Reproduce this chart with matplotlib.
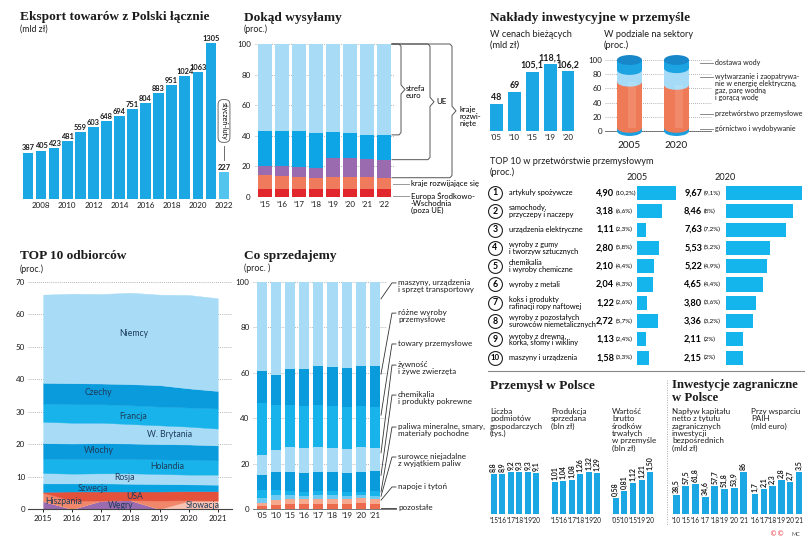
import numpy as np
import matplotlib
matplotlib.use("Agg")
import matplotlib.pyplot as plt
from matplotlib.patches import Ellipse, Rectangle
from matplotlib.lines import Line2D
from matplotlib.transforms import blended_transform_factory

W, H = 805, 542
SERIF = "Liberation Serif"
SANS = "Lato"
plt.rcParams['font.family'] = [SANS, 'DejaVu Sans']

BLUE = "#1ba6e4"
BLUE_PALE = "#52c4ee"
LIGHT = "#a8dcf6"
MID = "#17b3ea"
DARK = "#0a9bdd"
PURPLE = "#9b6bb0"
SALMON = "#f07b5c"
RED = "#e2262d"
GRID = "#9a9a9a"
TXT = "#1c1c1c"
NAVY = "#1d3b5a"
LEAD = "#555555"

# --- Eksport towarów z Polski łącznie (mld zł)
exp_years = list(range(2007, 2023))
exp_values = [387, 405, 423, 481, 559, 603, 648, 694, 751, 804, 883, 951, 1024, 1063, 1305, 227]

# --- Dokąd wysyłamy (proc.)
dest_years = ["’15", "’16", "’17", "’18", "’19", "’20", "’21", "’22"]
dest_cee = [5.0, 5.2, 5.4, 5.5, 5.5, 5.5, 5.3, 5.0]
dest_developing = [9.2, 8.6, 7.8, 7.1, 7.3, 7.7, 7.9, 7.6]
dest_dev_noneu = [6.1, 6.2, 6.6, 6.4, 12.7, 12.3, 11.4, 11.8]
dest_eu_noneuro = [23.1, 23.4, 23.2, 22.9, 16.8, 16.3, 16.2, 16.2]
dest_euro = [56.6, 56.6, 57.0, 58.1, 57.7, 58.2, 59.2, 59.4]

# --- Nakłady inwestycyjne (mld zł)
inv_years = ["’05", "’10", "’15", "’19", "’20"]
inv_values = [48, 69, 105.1, 118.1, 106.2]

# --- W podziale na sektory (proc.)
sector_years = ["2005", "2020"]
sector_mining = [4.5, 4.5]
sector_manuf = [65.0, 60.5]
sector_energy = [16.5, 23.5]
sector_water = [14.0, 11.5]

# --- TOP 10 w przetwórstwie przemysłowym
top_names = ["artykuły spożywcze", "samochody,\nprzyczepy i naczepy", "urządzenia elektryczne",
             "wyroby z gumy\ni tworzyw sztucznych", "chemikalia\ni wyroby chemiczne", "wyroby z metali",
             "koks i produkty\nrafinacji ropy naftowej", "wyroby z pozostałych\nsurowców niemetalicznych",
             "wyroby z drewna,\nkorka, słomy i wikliny", "maszyny i urządzenia"]
top_2005 = [4.90, 3.18, 1.11, 2.80, 2.10, 2.04, 1.22, 2.72, 1.13, 1.58]
top_2005_pct = [10.2, 6.6, 2.3, 5.8, 4.4, 4.3, 2.6, 5.7, 2.4, 3.3]
top_2020 = [9.67, 8.46, 7.63, 5.53, 5.22, 4.65, 3.80, 3.36, 2.11, 2.15]
top_2020_pct = [9.1, 8, 7.2, 5.2, 4.9, 4.4, 3.6, 3.2, 2, 2]

# --- TOP 10 odbiorców (proc.)
rec_years = [2015, 2016, 2017, 2018, 2019, 2020, 2021]
rec_hungary = [2.4, 0.0, 2.6, 2.7, 0.0, 0.0, 0.0]
rec_slovakia = [0.0, 0.0, 0.0, 0.0, 0.0, 2.5, 2.6]
rec_spain = [2.6, 2.6, 0.0, 0.0, 2.6, 0.2, 0.0]
rec_usa = [0.3, 2.8, 2.8, 2.7, 2.8, 2.8, 2.9]
rec_sweden = [2.6, 2.5, 2.5, 2.4, 2.3, 2.1, 2.0]
rec_russia = [3.2, 3.0, 3.1, 3.2, 3.1, 3.0, 3.1]
rec_nl = [4.4, 4.5, 4.4, 4.4, 4.5, 4.6, 4.4]
rec_italy = [4.8, 4.8, 4.9, 4.8, 4.7, 4.7, 4.6]
rec_uk = [6.6, 6.4, 6.3, 6.0, 5.8, 5.5, 5.2]
rec_france = [5.6, 5.7, 5.7, 5.8, 5.8, 5.9, 6.2]
rec_czech = [6.4, 6.5, 6.4, 6.5, 6.6, 5.9, 5.4]
rec_germany = [27.2, 27.6, 27.6, 28.2, 27.9, 28.8, 28.6]

# --- Co sprzedajemy (proc.)
cs_years = ["’05", "’10", "’15", "’16", "’17", "’18", "’19", "’20", "’21"]
cs_other = [1.2, 1.8, 2.0, 2.0, 2.2, 2.2, 2.2, 2.5, 2.2]
cs_bev = [1.6, 2.0, 2.2, 2.2, 2.1, 2.1, 2.1, 2.3, 2.1]
cs_crude = [2.2, 2.2, 1.8, 1.6, 1.7, 1.7, 1.6, 1.4, 1.6]
cs_fuels = [3.5, 2.5, 1.8, 1.6, 1.9, 1.9, 1.6, 1.3, 2.0]
cs_chem = [6.5, 8.0, 8.7, 8.5, 8.6, 8.4, 8.5, 8.7, 8.7]
cs_food = [8.7, 9.3, 10.7, 10.9, 10.8, 10.5, 10.5, 11.0, 10.2]
cs_manuf = [22.8, 20.2, 18.8, 18.7, 18.7, 18.7, 18.5, 18.3, 18.2]
cs_misc = [14.4, 13.0, 15.5, 16.3, 17.1, 17.2, 17.0, 17.3, 18.0]
cs_mach = [39.1, 41.0, 38.5, 38.2, 36.9, 37.3, 38.0, 37.2, 37.0]

# --- Przemysł w Polsce / Inwestycje zagraniczne
firms_years = ["’15", "’16", "’17", "’18", "’19", "’20"]
firms_values = [8.8, 8.9, 9.2, 9.3, 9.3, 9.1]
sales_years = ["’15", "’16", "’17", "’18", "’19", "’20"]
sales_values = [1.01, 1.04, 1.08, 1.26, 1.32, 1.29]
assets_years = ["’05", "’10", "’15", "’19", "’20"]
assets_values = [0.58, 0.81, 1.12, 1.21, 1.50]
fdi_years = ["’10", "’15", "’16", "’17", "’18", "’19", "’20", "’21"]
fdi_values = [38.5, 57.5, 61.8, 34.6, 57.7, 51.8, 53.9, 86]
paih_years = ["’16", "’17", "’18", "’19", "’20", "’21"]
paih_values = [1.7, 2.1, 2.3, 2.8, 2.7, 3.5]


fig = plt.figure(figsize=(W / 100, H / 100), dpi=100)
fig.patch.set_facecolor("white")


def add_ax(x0, y0, x1, y1):
    # pixel box -> figure axes
    ax = fig.add_axes([x0 / W, 1 - y1 / H, (x1 - x0) / W, (y1 - y0) / H])
    ax.patch.set_alpha(0)
    for s in ax.spines.values():
        s.set_visible(False)
    return ax


def ftext(x, y, s, **kw):
    kw.setdefault("va", "center")
    kw.setdefault("color", TXT)
    fig.text(x / W, 1 - y / H, s, **kw)


def px_line(xs, ys, **kw):
    fig.add_artist(Line2D([x / W for x in xs], [1 - y / H for y in ys],
                          transform=fig.transFigure, **kw))


def title(x, y, s, size=9.6):
    ftext(x, y, s, family=SERIF, weight="bold", size=size)


def dec(v, fmt="{:g}"):
    return fmt.format(v).replace(".", ",")


# ============ Eksport ============
title(20, 17, "Eksport towarów z Polski łącznie")
ftext(20, 29, "(mld zł)", size=6.3)
ax = add_ax(18, 30, 234, 199)
cols = [BLUE] * (len(exp_values) - 1) + [BLUE_PALE]
ax.bar(exp_years, exp_values, width=0.82, color=cols)
for x, v in zip(exp_years, exp_values):
    ax.text(x, v + 10, str(v), ha="center", va="bottom", fontsize=5.4, weight="bold", color=TXT)
ax.set_xlim(2006.235, 2022.765)
ax.set_ylim(0, 1412)
ax.set_yticks([])
ax.set_xticks(range(2008, 2023, 2))
ax.tick_params(axis="x", length=0, labelsize=5.8, pad=2, labelcolor=TXT)
ax.text(2022, 652, "styczeń-luty", rotation=270, ha="center", va="center", fontsize=5,
        bbox=dict(boxstyle="round,pad=0.35,rounding_size=0.7", fc="white", ec="#555", lw=0.6))
ax.plot([2022, 2022], [330, 440], color="#555", lw=0.6)

# ============ Dokąd wysyłamy ============
title(244, 18, "Dokąd wysyłamy")
ftext(244, 29.5, "(proc.)", size=6.3)
ax = add_ax(255, 44, 394, 197)
xs = np.arange(len(dest_years))
bottom = np.zeros(len(xs))
for vals, c in [(dest_cee, RED), (dest_developing, SALMON), (dest_dev_noneu, PURPLE),
                (dest_eu_noneuro, "#0ea5e6"), (dest_euro, LIGHT)]:
    ax.bar(xs, vals, bottom=bottom, width=0.8, color=c, zorder=2)
    bottom = bottom + np.array(vals)
ax.set_xlim(-0.588, 7.588)
ax.set_ylim(0, 100)
ax.set_yticks([0, 20, 40, 60, 80, 100])
ax.yaxis.grid(True, ls=(0, (1, 1.5)), color=GRID, lw=0.6, zorder=0)
ax.set_xticks(xs, dest_years)
ax.tick_params(length=0, labelsize=5.8, pad=3, labelcolor=TXT)

tr = blended_transform_factory(fig.transFigure, ax.transData)
euro_bot = 100 - dest_euro[-1]
eu_bot = euro_bot - dest_eu_noneuro[-1]
dev_bot = eu_bot - dest_dev_noneu[-1]


def brace(xv, xt, y_top, y_bot, x0=392):
    ym = (y_top + y_bot) / 2
    xx = [x0, xv - 2, xv, xv, xt, xv, xv, xv - 2, x0]
    yy = [y_top, y_top, y_top - 1.5, ym + 3, ym, ym - 3, y_bot + 1.5, y_bot, y_bot]
    ax.plot([x / W for x in xx], yy, transform=tr, clip_on=False, color=LEAD, lw=0.7)
    return ym


m = brace(401, 405, 100, euro_bot)
ax.annotate("strefa\neuro", (406 / W, m), xycoords=tr, xytext=(0, 3.2), textcoords="offset points",
            va="top", fontsize=5.6, linespacing=1.0)
m = brace(430, 434, 100, eu_bot)
ax.annotate("UE", (436 / W, m), xycoords=tr, va="center", fontsize=5.8)
m = brace(452, 456, 100, dev_bot)
ax.annotate("kraje\nrozwi-\nnięte", (459 / W, m), xycoords=tr, xytext=(0, 3.2), textcoords="offset points",
            va="top", fontsize=5.6, linespacing=1.0)
y_dev = dest_cee[-1] + dest_developing[-1] / 2
ax.plot([393 / W, 409 / W], [y_dev, y_dev], transform=tr, clip_on=False, color="#999", lw=0.7)
ax.annotate("kraje rozwijające się", (411 / W, y_dev), xycoords=tr, va="center", fontsize=5.6)
ax.plot([393 / W, 409 / W], [0.8, 0.8], transform=tr, clip_on=False, color="#999", lw=0.7)
ax.annotate("Europa Środkowo-\n-Wschodnia\n(poza UE)", (411 / W, 0.8), xycoords=tr, xytext=(0, 3),
            textcoords="offset points", va="top", fontsize=5.6, linespacing=1.0)

# ============ Nakłady inwestycyjne ============
title(490, 18, "Nakłady inwestycyjne w przemyśle")
ftext(490, 34.5, "W cenach bieżących", size=6.6)
ftext(490, 45, "(mld zł)", size=6.6)
ax = add_ax(487, 55, 577, 131)
xs = np.arange(len(inv_values))
ax.bar(xs, inv_values, width=0.71, color=BLUE)
for x, v in zip(xs, inv_values):
    ax.text(x, v + 3, dec(v), ha="center", va="bottom", fontsize=6.4, weight="bold", color=TXT)
ax.set_xlim(-0.53, 4.5)
ax.set_ylim(0, 134.5)
ax.set_yticks([])
ax.set_xticks(xs, inv_years)
ax.tick_params(length=0, labelsize=5.8, pad=2, labelcolor=TXT)

ftext(604, 34.5, "W podziale na sektory", size=6.6)
ftext(604, 45, "(proc.)", size=6.6)
ax = add_ax(605, 45, 712, 142)
ax.set_xlim(-0.521, 1.755)
ax.set_ylim((131 - 142) / 0.71, (131 - 45) / 0.71)
ax.set_yticks([0, 20, 40, 60, 80, 100])
ax.yaxis.grid(True, ls=(0, (1, 1.5)), color=GRID, lw=0.6, zorder=0)
ax.set_xticks([])
ax.tick_params(length=0, labelsize=5.8, pad=2, labelcolor=TXT)
ax.axhline(0, color="#666", lw=0.7, zorder=1)
cyl_cols = ["#1b9fdf", "#ef7a57", "#a5dbf6", "#1ba3e2"]
cw, eh = 0.532, 14
for i, yr in enumerate(sector_years):
    parts = [sector_mining[i], sector_manuf[i], sector_energy[i], sector_water[i]]
    y0 = 0
    z = 3
    for s, c in zip(parts, cyl_cols):
        ax.add_patch(Ellipse((i, y0), cw, eh, color=c, zorder=z, lw=0))
        ax.add_patch(Rectangle((i - cw / 2, y0), cw, s, color=c, zorder=z + 1, lw=0))
        y0 += s
        z += 2
    # soft highlight on the body
    ax.add_patch(Rectangle((i - cw * 0.05, sector_mining[i]), cw * 0.3, sector_manuf[i],
                           color="white", alpha=0.12, zorder=z, lw=0))
    ax.add_patch(Ellipse((i, y0), cw, eh, color="#1787c9", zorder=z + 1, lw=0))
    ax.text(i, -14, yr, ha="center", va="top", fontsize=7.2, color=TXT)
sect_labels = [("dostawa wody", 95.8),
               ("wytwarzanie i zaopatrywa-\nnie w energię elektryczną,\ngaz, parę wodną\ni gorącą wodę", 76),
               ("przetwórstwo przemysłowe", 24), ("górnictwo i wydobywanie", 2.8)]
trc = blended_transform_factory(fig.transFigure, ax.transData)
for s, y in sect_labels:
    ax.plot([700 / W, 713 / W], [y, y], transform=trc, clip_on=False, color="#777", lw=0.6)
    ax.annotate(s, (714.5 / W, y), xycoords=trc, xytext=(0, 3), textcoords="offset points",
                va="top", fontsize=5.1, linespacing=1.0, color=TXT)

# ============ TOP 10 w przetwórstwie ============
ftext(490, 161.5, "TOP 10 w przetwórstwie przemysłowym", size=6.6)
ftext(490, 172.5, "(proc.)", size=6.6)
ftext(637, 178, "2005", size=6.6, ha="center")
ftext(725, 178, "2020", size=6.6, ha="center")
rows = np.arange(len(top_names))
ax05 = add_ax(637, 184, 717, 367)
ax20 = add_ax(726, 184, 805, 367)
ax05.barh(rows, top_2005, height=0.77, color="#14b4ec")
ax20.barh(rows, top_2020, height=0.77, color="#14b4ec")
ax05.set_xlim(0, 80 / 7.9)
ax20.set_xlim(0, 79 / 7.9)
for a in (ax05, ax20):
    a.set_ylim(9.51, -0.49)
    a.set_xticks([])
    a.set_yticks([])
tr = blended_transform_factory(fig.transFigure, ax05.transData)
for i in rows:
    ax05.plot(495 / W, i, "o", ms=10, mfc="white", mec="#222", mew=0.8, transform=tr, clip_on=False)
    ax05.text(495 / W, i, str(i + 1), transform=tr, ha="center", va="center",
              fontsize=6.3 if i < 9 else 5.6, weight="bold")
    ax05.text(509 / W, i, top_names[i], transform=tr, va="center", fontsize=5.35, linespacing=0.95)
    ax05.text(614 / W, i, dec(top_2005[i], "{:.2f}"), transform=tr, ha="right", va="center",
              fontsize=6.6, weight="bold")
    ax05.text(615.5 / W, i, "(" + dec(top_2005_pct[i]) + "%)", transform=tr, ha="left", va="center",
              fontsize=4.5)
    ax05.text(702 / W, i, dec(top_2020[i], "{:.2f}"), transform=tr, ha="right", va="center",
              fontsize=6.6, weight="bold")
    ax05.text(703.5 / W, i, "(" + dec(top_2020_pct[i]) + "%)", transform=tr, ha="left", va="center",
              fontsize=4.5)

# ============ TOP 10 odbiorców ============
title(20, 256, "TOP 10 odbiorców")
ftext(20, 269, "(proc.)", size=6.3)
ax = add_ax(28, 282, 232, 509)
layers = [rec_hungary, rec_slovakia, rec_spain, rec_usa, rec_sweden, rec_russia, rec_nl,
          rec_italy, rec_uk, rec_france, rec_czech, rec_germany]
lcols = [PURPLE, "#f8c3b3", "#f1876a", "#e5523c", "#0aa3e2", LIGHT, MID, DARK, LIGHT, MID, DARK, LIGHT]
ax.stackplot(rec_years, *layers, colors=lcols, lw=0.3, edgecolor="face", zorder=2)
ax.set_xlim(2014.48, 2021.49)
ax.set_ylim(0, 70)
ax.set_yticks(range(0, 71, 10))
ax.yaxis.grid(True, ls=(0, (1, 1.5)), color=GRID, lw=0.6, zorder=0)
ax.set_axisbelow(True)
ax.set_xticks(rec_years)
ax.tick_params(axis="y", length=0, labelsize=5.8, pad=2, labelcolor=TXT)
ax.tick_params(axis="x", length=2, width=0.6, labelsize=5.8, pad=2, labelcolor=TXT)
ax.spines["bottom"].set_visible(True)
ax.spines["bottom"].set_color("#444")
ax.spines["bottom"].set_linewidth(0.8)
for s, x, y in [("Niemcy", 2018.1, 54), ("Czechy", 2016.9, 35.8), ("Francja", 2018.1, 28.4),
                ("W. Brytania", 2019.35, 23.1), ("Włochy", 2016.9, 17.9), ("Holandia", 2019.25, 13),
                ("Rosja", 2017.8, 9.6), ("Szwecja", 2016.7, 6.2), ("USA", 2018.15, 3.8),
                ("Hiszpania", 2015.7, 2.2), ("Węgry", 2017.65, 1.2), ("Słowacja", 2020.5, 1.0)]:
    ax.text(x, y, s, ha="center", va="center", fontsize=6.2, color=NAVY, zorder=5)

# ============ Co sprzedajemy ============
title(244, 256, "Co sprzedajemy")
ftext(244, 268, "(proc. )", size=6.3)
ax = add_ax(253, 282, 387, 509)
xs = np.arange(len(cs_years))
cs_layers = [cs_other, cs_bev, cs_crude, cs_fuels, cs_chem, cs_food, cs_manuf, cs_misc, cs_mach]
cs_cols = ["#ec6b4d", "#f6a98f", "#6fcbf1", MID, DARK, LIGHT, MID, DARK, LIGHT]
cs_names = ["pozostałe", "napoje i tytoń", "surowce niejadalne\nz wyjątkiem paliw",
            "paliwa mineralne, smary,\nmateriały pochodne", "chemikalia\ni produkty pokrewne",
            "żywność\ni żywe zwierzęta", "towary przemysłowe", "różne wyroby\nprzemysłowe",
            "maszyny, urządzenia\ni sprzęt transportowy"]
cs_label_y = [0.4, 9.7, 22.9, 36.1, 50.2, 63.4, 72.7, 86.3, 99.6]
bottom = np.zeros(len(xs))
anchors = []
for vals, c in zip(cs_layers, cs_cols):
    ax.bar(xs, vals, bottom=bottom, width=0.72, color=c, zorder=2)
    anchors.append(bottom[-1] + 0.8 * vals[-1])
    bottom = bottom + np.array(vals)
ax.set_xlim(-0.614, 8.85)
ax.set_ylim(0, 100)
ax.set_yticks(range(0, 101, 20))
ax.yaxis.grid(True, ls=(0, (1, 1.5)), color=GRID, lw=0.6, zorder=0)
ax.set_xticks(xs, cs_years)
ax.tick_params(length=0, labelsize=5.8, pad=2.5, labelcolor=TXT)
tr = blended_transform_factory(fig.transFigure, ax.transData)
ax.plot([253 / W, 396 / W], [0, 0], transform=tr, clip_on=False, color="#777", lw=0.7, zorder=3)
for k, (s, ly) in enumerate(zip(cs_names, cs_label_y)):
    a = ly if k == 0 else anchors[k]
    ax.plot([381 / W, 392 / W, 396 / W], [a, ly, ly], transform=tr, clip_on=False, color="#333", lw=0.6)
    ax.annotate(s, (398 / W, ly), xycoords=tr, xytext=(0, 3.2), textcoords="offset points",
                va="top", fontsize=5.8, linespacing=1.0, color=TXT)

# ============ Przemysł w Polsce / Inwestycje ============
px_line([488, 805], [371, 371], color="#888", lw=0.8)
px_line([667, 667], [380, 526], color="#aaa", lw=0.7, ls=(0, (1, 1.5)))
title(490, 386, "Przemysł w Polsce")
title(672, 385, "Inwestycje zagraniczne", size=9.2)
title(672, 398, "w Polsce", size=9.2)


def mini(x0, x1, cats, vals, fmt, caption):
    n = len(vals)
    a = add_ax(x0, 456, x1, 514)
    a.bar(range(n), vals, width=0.72, color=BLUE)
    a.set_xlim(-0.55, n - 0.45)
    a.set_ylim(0, max(vals) * 58 / 42)
    for i, v in enumerate(vals):
        a.annotate(dec(v, fmt), (i, v), xytext=(0, 1.5), textcoords="offset points", rotation=90,
                   ha="center", va="bottom", fontsize=5, weight="bold", color=TXT)
    a.set_yticks([])
    a.set_xticks(range(n), cats)
    a.tick_params(length=0, labelsize=4.7, pad=2, labelcolor=TXT)
    ftext(x0 + 1, 408, caption, va="top", size=5.8, linespacing=1.05)


mini(489, 541, firms_years, firms_values, "{:g}", "Liczba\npodmiotów\ngospodarczych\n(tys.)")
mini(550, 602, sales_years, sales_values, "{:.2f}", "Produkcja\nsprzedana\n(bln zł)")
mini(611, 655, assets_years, assets_values, "{:.2f}", "Wartość\nbrutto\nśrodków\ntrwałych\nw przemyśle\n(bln zł)")
mini(671, 749, fdi_years, fdi_values, "{:g}",
     "Napływ kapitału\nnetto z tytułu\nzagranicznych\ninwestycji\nbezpośrednich\n(mld zł)")
mini(750, 804, paih_years, paih_values, "{:g}", "Przy wsparciu\nPAIH\n(mld euro)")

ftext(777, 534, "©©", size=5, color="#e2262d", ha="center", family="DejaVu Sans")
ftext(796, 534, "MC", size=4, color="#555", ha="center")

fig.savefig("out.png", dpi=100)
